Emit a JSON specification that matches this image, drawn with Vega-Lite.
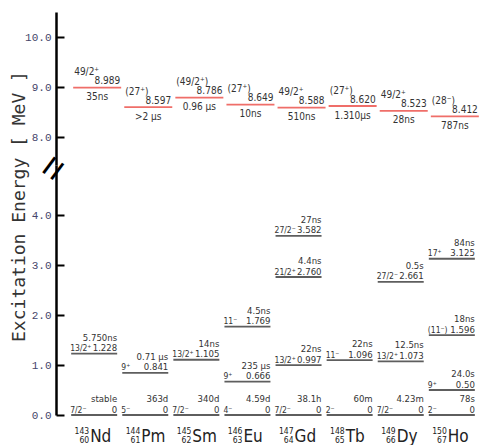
{
  "$schema": "https://vega.github.io/schema/vega-lite/v6.json",
  "background": "white",
  "padding": {"left": 9, "top": 12, "right": 0, "bottom": 0},
  "bounds": "flush",
  "spacing": 0,
  "resolve": {"scale": {"x": "independent", "y": "independent"}},
  "config": {
    "view": {"stroke": null},
    "axis": {
      "grid": false,
      "domainColor": "black",
      "domainWidth": 2.5,
      "tickColor": "black",
      "tickWidth": 2,
      "tickSize": -8,
      "labelFont": "Liberation Mono",
      "labelFontSize": 11,
      "labelColor": "#45456a",
      "labelPadding": 13
    },
    "text": {"font": "DejaVu Sans Condensed, DejaVu Sans, sans-serif", "fontSize": 9.5, "color": "#333333", "baseline": "alphabetic"}
  },
  "datasets": {
    "isomers": [
      {"iso": "Nd", "e": 8.989, "elabel": "8.989", "spin": "49/2⁺", "hl": "35ns"},
      {"iso": "Pm", "e": 8.597, "elabel": "8.597", "spin": "(27⁺)", "hl": ">2 µs"},
      {"iso": "Sm", "e": 8.786, "elabel": "8.786", "spin": "(49/2⁺)", "hl": "0.96 µs"},
      {"iso": "Eu", "e": 8.649, "elabel": "8.649", "spin": "(27⁺)", "hl": "10ns"},
      {"iso": "Gd", "e": 8.588, "elabel": "8.588", "spin": "49/2⁺", "hl": "510ns"},
      {"iso": "Tb", "e": 8.620, "elabel": "8.620", "spin": "(27⁺)", "hl": "1.310µs"},
      {"iso": "Dy", "e": 8.523, "elabel": "8.523", "spin": "49/2⁺", "hl": "28ns"},
      {"iso": "Ho", "e": 8.412, "elabel": "8.412", "spin": "(28⁻)", "hl": "787ns"}
    ],
    "levels": [
      {"iso": "Nd", "e": 0, "elabel": "0", "spin": "7/2⁻", "hl": "stable"},
      {"iso": "Nd", "e": 1.228, "elabel": "1.228", "spin": "13/2⁺", "hl": "5.750ns"},
      {"iso": "Pm", "e": 0, "elabel": "0", "spin": "5⁻", "hl": "363d"},
      {"iso": "Pm", "e": 0.841, "elabel": "0.841", "spin": "9⁺", "hl": "0.71 µs"},
      {"iso": "Sm", "e": 0, "elabel": "0", "spin": "7/2⁻", "hl": "340d"},
      {"iso": "Sm", "e": 1.105, "elabel": "1.105", "spin": "13/2⁺", "hl": "14ns"},
      {"iso": "Eu", "e": 0, "elabel": "0", "spin": "4⁻", "hl": "4.59d"},
      {"iso": "Eu", "e": 0.666, "elabel": "0.666", "spin": "9⁺", "hl": "235 µs"},
      {"iso": "Eu", "e": 1.769, "elabel": "1.769", "spin": "11⁻", "hl": "4.5ns"},
      {"iso": "Gd", "e": 0, "elabel": "0", "spin": "7/2⁻", "hl": "38.1h"},
      {"iso": "Gd", "e": 0.997, "elabel": "0.997", "spin": "13/2⁺", "hl": "22ns"},
      {"iso": "Gd", "e": 2.760, "elabel": "2.760", "spin": "21/2⁺", "hl": "4.4ns"},
      {"iso": "Gd", "e": 3.582, "elabel": "3.582", "spin": "27/2⁻", "hl": "27ns"},
      {"iso": "Tb", "e": 0, "elabel": "0", "spin": "2⁻", "hl": "60m"},
      {"iso": "Tb", "e": 1.096, "elabel": "1.096", "spin": "11⁻", "hl": "22ns"},
      {"iso": "Dy", "e": 0, "elabel": "0", "spin": "7/2⁻", "hl": "4.23m"},
      {"iso": "Dy", "e": 1.073, "elabel": "1.073", "spin": "13/2⁺", "hl": "12.5ns"},
      {"iso": "Dy", "e": 2.661, "elabel": "2.661", "spin": "27/2⁻", "hl": "0.5s"},
      {"iso": "Ho", "e": 0, "elabel": "0", "spin": "2⁻", "hl": "78s"},
      {"iso": "Ho", "e": 0.50, "elabel": "0.50", "spin": "9⁺", "hl": "24.0s"},
      {"iso": "Ho", "e": 1.596, "elabel": "1.596", "spin": "(11⁻)", "hl": "18ns"},
      {"iso": "Ho", "e": 3.125, "elabel": "3.125", "spin": "17⁺", "hl": "84ns"}
    ],
    "nuclides": [
      {"iso": "Nd", "A": "143", "Z": "60"},
      {"iso": "Pm", "A": "144", "Z": "61"},
      {"iso": "Sm", "A": "145", "Z": "62"},
      {"iso": "Eu", "A": "146", "Z": "63"},
      {"iso": "Gd", "A": "147", "Z": "64"},
      {"iso": "Tb", "A": "148", "Z": "65"},
      {"iso": "Dy", "A": "149", "Z": "66"},
      {"iso": "Ho", "A": "150", "Z": "67"}
    ]
  },
  "vconcat": [
    {
      "width": 434,
      "height": 153,
      "data": {"name": "isomers"},
      "encoding": {
        "x": {"field": "iso", "type": "nominal", "axis": null,
              "scale": {"domain": ["Nd", "Pm", "Sm", "Eu", "Gd", "Tb", "Dy", "Ho"], "paddingInner": 0, "paddingOuter": 0.247}},
        "y": {"field": "e", "type": "quantitative",
              "scale": {"domain": [7.44, 10.5], "nice": false, "zero": false},
              "axis": {"values": [8, 9, 10], "format": ".1f", "title": null}}
      },
      "layer": [
        {"mark": {"type": "tick", "color": "#e8302a", "thickness": 1.8, "size": 48, "xOffset": 3}},
        {"mark": {"type": "text", "align": "right", "dx": 26, "dy": -3.5, "fontSize": 10}, "encoding": {"text": {"field": "elabel"}}},
        {"mark": {"type": "text", "align": "left", "dx": -20, "dy": -12.5, "fontSize": 10}, "encoding": {"text": {"field": "spin"}}},
        {"mark": {"type": "text", "align": "center", "dx": 3, "dy": 12.5, "fontSize": 10}, "encoding": {"text": {"field": "hl"}}},
        {
          "data": {"values": [{"iso": "Nd", "e": 7.44}]},
          "mark": {"type": "text", "text": "=", "font": "Liberation Sans", "fontSize": 40, "angle": -53, "align": "center", "baseline": "middle", "dx": -27.3, "dy": -29.5, "color": "black"}
        }
      ]
    },
    {
      "width": 434,
      "height": 250,
      "layer": [
        {
          "data": {"name": "levels"},
          "encoding": {
            "x": {"field": "iso", "type": "nominal", "axis": null,
                  "scale": {"domain": ["Nd", "Pm", "Sm", "Eu", "Gd", "Tb", "Dy", "Ho"], "paddingInner": 0, "paddingOuter": 0.247}},
            "y": {"field": "e", "type": "quantitative",
                  "scale": {"domain": [0, 5], "nice": false},
                  "axis": {"values": [0, 1, 2, 3, 4], "format": ".1f",
                           "title": "Excitation Energy  [ MeV ]",
                           "titleFont": "DejaVu Sans Mono", "titleFontSize": 18, "titleFontWeight": "normal",
                           "titleColor": "#333333", "titleX": -37, "titleY": 41, "titleAngle": -90,
                           "titleAlign": "center", "titleBaseline": "middle"}}
          },
          "layer": [
            {"mark": {"type": "tick", "color": "#1a1a1a", "thickness": 1.8, "size": 46}},
            {"mark": {"type": "text", "align": "right", "dx": 23, "dy": -2.5}, "encoding": {"text": {"field": "elabel"}}},
            {"mark": {"type": "text", "align": "left", "dx": -24, "dy": -2.5, "fontSize": 8.5}, "encoding": {"text": {"field": "spin"}}},
            {"mark": {"type": "text", "align": "right", "dx": 23, "dy": -13}, "encoding": {"text": {"field": "hl"}}}
          ]
        },
        {
          "data": {"name": "nuclides"},
          "encoding": {
            "x": {"field": "iso", "type": "nominal"},
            "y": {"datum": 0}
          },
          "layer": [
            {"mark": {"type": "text", "align": "left", "dx": -4, "dy": 27, "fontSize": 17, "color": "#222222"}, "encoding": {"text": {"field": "iso"}}},
            {"mark": {"type": "text", "align": "right", "dx": -5, "dy": 18.5, "fontSize": 8.5, "color": "#222222"}, "encoding": {"text": {"field": "A"}}},
            {"mark": {"type": "text", "align": "right", "dx": -5, "dy": 27.5, "fontSize": 8.5, "color": "#222222"}, "encoding": {"text": {"field": "Z"}}}
          ]
        }
      ]
    }
  ]
}
